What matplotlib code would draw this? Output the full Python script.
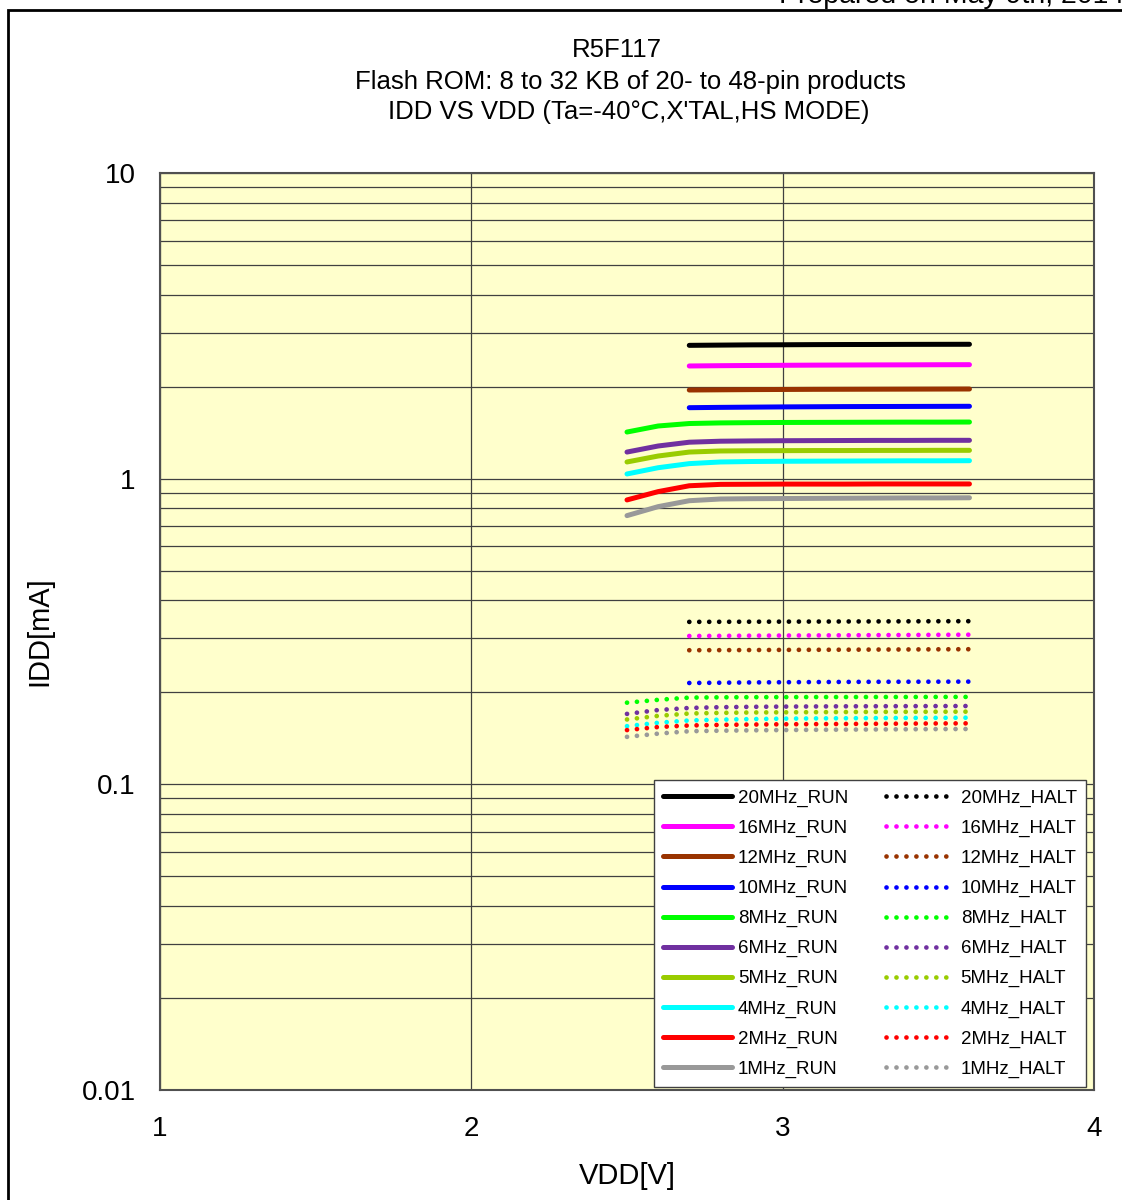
import matplotlib
matplotlib.use("Agg")
import matplotlib.pyplot as plt
from matplotlib.patches import Rectangle
from matplotlib.ticker import FixedLocator, FuncFormatter, LogLocator, NullFormatter

plt.rcParams['font.family'] = ['Liberation Sans', 'DejaVu Sans']

# ---------------- data ----------------
v_hi = [2.7, 2.8, 2.9, 3.0, 3.1, 3.2, 3.3, 3.4, 3.5, 3.6]
v_lo = [2.5, 2.6, 2.7, 2.8, 2.9, 3.0, 3.1, 3.2, 3.3, 3.4, 3.5, 3.6]

labels_run = ['20MHz_RUN', '16MHz_RUN', '12MHz_RUN', '10MHz_RUN', '8MHz_RUN',
              '6MHz_RUN', '5MHz_RUN', '4MHz_RUN', '2MHz_RUN', '1MHz_RUN']
labels_halt = ['20MHz_HALT', '16MHz_HALT', '12MHz_HALT', '10MHz_HALT', '8MHz_HALT',
               '6MHz_HALT', '5MHz_HALT', '4MHz_HALT', '2MHz_HALT', '1MHz_HALT']
colors = ['#000000', '#FF00FF', '#993300', '#0000FF', '#00FF00',
          '#7030A0', '#99CC00', '#00FFFF', '#FF0000', '#999999']

run_20 = [2.730, 2.735, 2.740, 2.742, 2.745, 2.747, 2.748, 2.750, 2.751, 2.752]
run_16 = [2.337, 2.342, 2.346, 2.349, 2.352, 2.354, 2.356, 2.357, 2.359, 2.360]
run_12 = [1.950, 1.953, 1.956, 1.958, 1.960, 1.961, 1.962, 1.963, 1.964, 1.965]
run_10 = [1.707, 1.711, 1.714, 1.717, 1.719, 1.721, 1.722, 1.723, 1.724, 1.725]
run_8 = [1.421, 1.487, 1.515, 1.522, 1.525, 1.527, 1.528, 1.529, 1.530, 1.531, 1.531, 1.532]
run_6 = [1.222, 1.279, 1.316, 1.326, 1.329, 1.331, 1.332, 1.333, 1.334, 1.334, 1.335, 1.335]
run_5 = [1.134, 1.186, 1.222, 1.232, 1.234, 1.235, 1.236, 1.236, 1.237, 1.237, 1.238, 1.238]
run_4 = [1.036, 1.086, 1.120, 1.134, 1.138, 1.140, 1.141, 1.142, 1.143, 1.144, 1.144, 1.145]
run_2 = [0.852, 0.907, 0.948, 0.958, 0.959, 0.960, 0.960, 0.960, 0.961, 0.961, 0.961, 0.961]
run_1 = [0.757, 0.810, 0.847, 0.858, 0.860, 0.861, 0.862, 0.863, 0.864, 0.865, 0.865, 0.866]

halt_20 = [0.3400, 0.3402, 0.3404, 0.3406, 0.3408, 0.3410, 0.3412, 0.3414, 0.3416, 0.3417]
halt_16 = [0.3057, 0.3060, 0.3064, 0.3067, 0.3070, 0.3073, 0.3077, 0.3080, 0.3084, 0.3087]
halt_12 = [0.2746, 0.2748, 0.2750, 0.2753, 0.2755, 0.2757, 0.2760, 0.2762, 0.2765, 0.2767]
halt_10 = [0.2146, 0.2150, 0.2155, 0.2158, 0.2161, 0.2163, 0.2165, 0.2166, 0.2167, 0.2168]
halt_8 = [0.1850, 0.1890, 0.1922, 0.1926, 0.1928, 0.1929, 0.1930, 0.1930, 0.1931, 0.1931, 0.1932, 0.1932]
halt_6 = [0.1700, 0.1750, 0.1778, 0.1788, 0.1793, 0.1796, 0.1798, 0.1800, 0.1801, 0.1802, 0.1803, 0.1804]
halt_5 = [0.1630, 0.1675, 0.1705, 0.1713, 0.1718, 0.1720, 0.1722, 0.1724, 0.1726, 0.1727, 0.1728, 0.1729]
halt_4 = [0.1550, 0.1590, 0.1618, 0.1628, 0.1635, 0.1640, 0.1643, 0.1645, 0.1647, 0.1649, 0.1650, 0.1652]
halt_2 = [0.1505, 0.1540, 0.1558, 0.1565, 0.1569, 0.1572, 0.1574, 0.1576, 0.1578, 0.1580, 0.1582, 0.1583]
halt_1 = [0.1430, 0.1465, 0.1492, 0.1498, 0.1502, 0.1505, 0.1508, 0.1510, 0.1512, 0.1514, 0.1516, 0.1517]

run_series = [(v_hi, run_20), (v_hi, run_16), (v_hi, run_12), (v_hi, run_10),
              (v_lo, run_8), (v_lo, run_6), (v_lo, run_5), (v_lo, run_4),
              (v_lo, run_2), (v_lo, run_1)]
halt_series = [(v_hi, halt_20), (v_hi, halt_16), (v_hi, halt_12), (v_hi, halt_10),
               (v_lo, halt_8), (v_lo, halt_6), (v_lo, halt_5), (v_lo, halt_4),
               (v_lo, halt_2), (v_lo, halt_1)]

x_ticks = [1, 2, 3, 4]
y_ticks = [0.01, 0.1, 1, 10]

title_lines = ['R5F117',
               'Flash ROM: 8 to 32 KB of 20- to 48-pin products',
               "IDD VS VDD (Ta=-40°C,X'TAL,HS MODE)"]

# ---------------- figure ----------------
W, H = 1122, 1200
fig = plt.figure(figsize=(W / 100, H / 100), dpi=100)

# outer frame (cut at right/bottom)
fig.patches.append(Rectangle((8 / W, -0.1), 1.2, 1 - 10 / H + 0.1,
                             transform=fig.transFigure, fill=False,
                             edgecolor='black', linewidth=2))
fig.text(1124 / W, 1 - 9 / H, 'Prepared on May 9th, 2014', ha='right', va='bottom',
         fontsize=20.5)

fig.text(617 / W, 1 - 50 / H, title_lines[0], ha='center', va='center', fontsize=18.5)
fig.text(630 / W, 1 - 82 / H, title_lines[1], ha='center', va='center', fontsize=18.5)
fig.text(629 / W, 1 - 112 / H, title_lines[2], ha='center', va='center', fontsize=18.5)

ax = fig.add_axes([160 / W, 1 - 1090 / H, (1094 - 160) / W, (1090 - 173) / H])
ax.set_facecolor('#FFFFCC')
ax.set_yscale('log')
ax.set_xlim(1, 4)
ax.set_ylim(0.01, 10)

ax.xaxis.set_major_locator(FixedLocator(x_ticks))
ax.yaxis.set_major_locator(FixedLocator(y_ticks))
ax.yaxis.set_minor_locator(LogLocator(base=10, subs=range(2, 10)))
ax.yaxis.set_minor_formatter(NullFormatter())
ax.yaxis.set_major_formatter(FuncFormatter(lambda v, p: '%g' % v))
ax.xaxis.set_major_formatter(FuncFormatter(lambda v, p: '%g' % v))
ax.tick_params(which='both', length=0, labelsize=20)
ax.tick_params(axis='y', pad=17.5)
ax.tick_params(axis='x', pad=19)

ax.grid(True, which='major', axis='both', color='#404040', linewidth=0.9)
ax.grid(True, which='minor', axis='y', color='#404040', linewidth=0.9)
ax.set_axisbelow(True)
for s in ax.spines.values():
    s.set_color('#505050')
    s.set_linewidth(1.5)

handles = []
for (xs, ys), c, lab in zip(run_series, colors, labels_run):
    h, = ax.plot(xs, ys, color=c, linewidth=3.6, solid_capstyle='round',
                 solid_joinstyle='round', label=lab)
    handles.append(h)
for (xs, ys), c, lab in zip(halt_series, colors, labels_halt):
    h, = ax.plot(xs, ys, color=c, linewidth=3.4, linestyle=(0, (0.01, 2.1)),
                 dash_capstyle='round', label=lab)
    handles.append(h)

ax.set_xlabel('VDD[V]', fontsize=21, labelpad=14)
ax.set_ylabel('IDD[mA]', fontsize=21, labelpad=20)

leg = ax.legend(handles=handles, ncol=2, loc='lower right',
                bbox_to_anchor=((1086 - 160) / 934, 3 / 917), borderaxespad=0,
                fontsize=13.5, handlelength=3.7, handletextpad=0.3,
                columnspacing=2.0, labelspacing=0.68, frameon=True, fancybox=False,
                borderpad=0.5)
leg.get_frame().set_edgecolor('#404040')
leg.get_frame().set_linewidth(1.0)
leg.get_frame().set_facecolor('white')
leg.get_frame().set_alpha(1)

fig.savefig('out.png', dpi=100)
